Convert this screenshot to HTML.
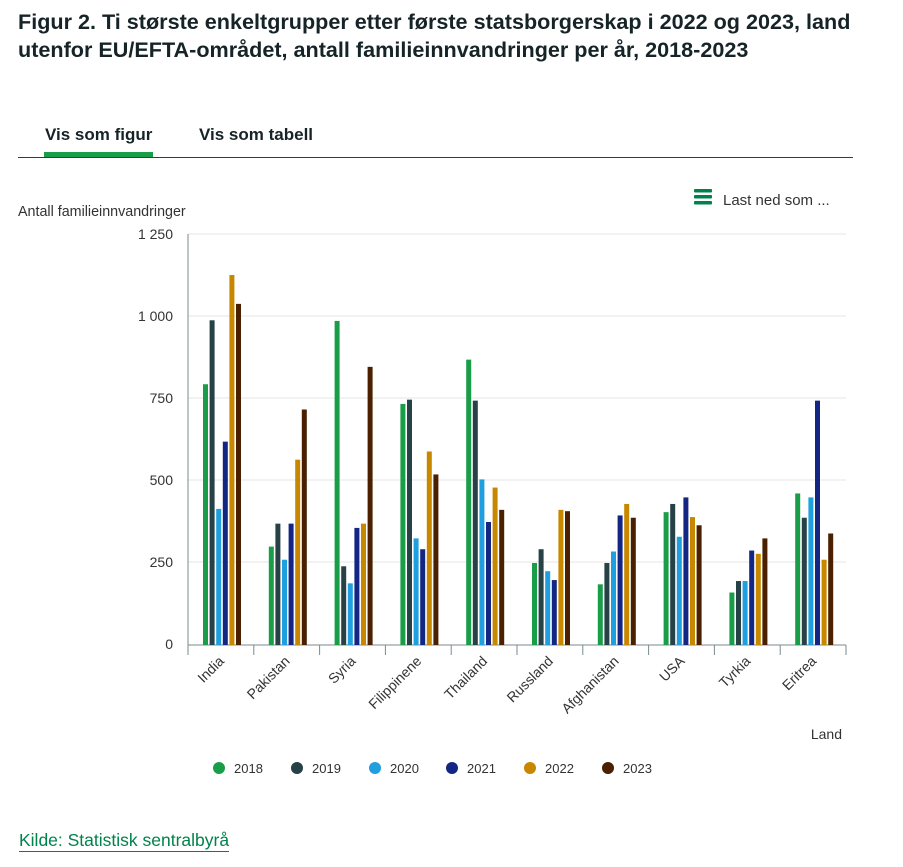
<!DOCTYPE html>
<html><head><meta charset="utf-8"><style>
body{margin:0;background:#fff;width:903px;height:867px;overflow:hidden;font-family:"Liberation Sans",sans-serif;position:relative}
h1{position:absolute;left:18px;top:8px;margin:0;font-size:21.6px;line-height:28px;font-weight:bold;color:#162327;width:880px}
.tab{position:absolute;top:125px;font-size:17px;font-weight:bold;color:#162327}
</style></head><body>
<h1>Figur 2. Ti største enkeltgrupper etter første statsborgerskap i 2022 og 2023, land utenfor EU/EFTA-området, antall familieinnvandringer per år, 2018-2023</h1>
<div class="tab" style="left:45px">Vis som figur</div>
<div class="tab" style="left:199px">Vis som tabell</div>
<div style="position:absolute;left:44px;top:152px;width:109px;height:5px;background:#1a9d49"></div>
<div style="position:absolute;left:18px;top:157px;width:835px;height:1px;background:#274247"></div>
<svg width="903" height="867" style="position:absolute;left:0;top:0" font-family="Liberation Sans, sans-serif">
<g fill="#00824d"><rect x="694" y="189" width="18" height="3.5" rx="1"/><rect x="694" y="195" width="18" height="3.5" rx="1"/><rect x="694" y="201" width="18" height="3.5" rx="1"/></g>
<text x="723" y="205" font-size="15" fill="#333">Last ned som ...</text>
<text x="18" y="216" font-size="14.3" fill="#333">Antall familieinnvandringer</text>
<g stroke="#e6e6e6"><line x1="188" x2="846" y1="234" y2="234"/><line x1="188" x2="846" y1="316" y2="316"/><line x1="188" x2="846" y1="398" y2="398"/><line x1="188" x2="846" y1="480" y2="480"/><line x1="188" x2="846" y1="562" y2="562"/></g>
<g font-size="14" fill="#333" text-anchor="end"><text x="173" y="239">1 250</text><text x="173" y="321">1 000</text><text x="173" y="403">750</text><text x="173" y="485">500</text><text x="173" y="567">250</text><text x="173" y="649">0</text></g>
<line x1="188" y1="234" x2="188" y2="645" stroke="#7a8a8c"/>
<line x1="188" y1="645" x2="846" y2="645" stroke="#7a8a8c"/>
<g id="bars"></g>
<g id="lbl" font-size="14" fill="#333"></g>
<text x="842" y="739" font-size="14" fill="#333" text-anchor="end">Land</text>
<g font-size="13" fill="#333">
<circle cx="219" cy="768" r="6" fill="#1a9d49"/><text x="234" y="773">2018</text>
<circle cx="297" cy="768" r="6" fill="#274247"/><text x="312" y="773">2019</text>
<circle cx="375" cy="768" r="6" fill="#1f9fe0"/><text x="390" y="773">2020</text>
<circle cx="452" cy="768" r="6" fill="#142684"/><text x="467" y="773">2021</text>
<circle cx="530" cy="768" r="6" fill="#c78800"/><text x="545" y="773">2022</text>
<circle cx="608" cy="768" r="6" fill="#4a2000"/><text x="623" y="773">2023</text>
</g>
</svg>
<div style="position:absolute;left:19px;top:829px;font-size:17.5px;color:#00824d;border-bottom:1px solid #00824d;line-height:22px">Kilde: Statistisk sentralbyrå</div>
<script>
var d=[["India",795,990,415,620,1128,1040],["Pakistan",300,370,260,370,565,718],["Syria",988,240,188,357,370,848],["Filippinene",735,748,325,292,590,520],["Thailand",870,745,505,375,480,412],["Russland",250,292,225,198,412,408],["Afghanistan",185,250,285,395,430,388],["USA",405,430,330,450,390,365],["Tyrkia",160,195,195,288,278,325],["Eritrea",462,388,450,745,260,340]];
var c=["#1a9d49","#274247","#1f9fe0","#142684","#c78800","#4a2000"];
var ns="http://www.w3.org/2000/svg",b=document.getElementById("bars"),l=document.getElementById("lbl");
var gw=65.8;
d.forEach(function(r,i){var x0=188+i*gw;
 var t=document.createElementNS(ns,"line");t.setAttribute("x1",x0);t.setAttribute("x2",x0);t.setAttribute("y1",645);t.setAttribute("y2",655);t.setAttribute("stroke","#7a8a8c");b.appendChild(t);
 for(var k=0;k<6;k++){var h=r[k+1]*0.328;var e=document.createElementNS(ns,"rect");e.setAttribute("x",x0+15+k*6.6);e.setAttribute("y",645-h);e.setAttribute("width",5);e.setAttribute("height",h);e.setAttribute("fill",c[k]);b.appendChild(e);}
 var s=document.createElementNS(ns,"text");var cx=x0+gw/2+4,cy=662;s.setAttribute("x",cx);s.setAttribute("y",cy);s.setAttribute("text-anchor","end");s.setAttribute("transform","rotate(-45 "+cx+" "+cy+")");s.textContent=r[0];l.appendChild(s);
});
var t=document.createElementNS(ns,"line");t.setAttribute("x1",846);t.setAttribute("x2",846);t.setAttribute("y1",645);t.setAttribute("y2",655);t.setAttribute("stroke","#7a8a8c");b.appendChild(t);
</script>
</body></html>
